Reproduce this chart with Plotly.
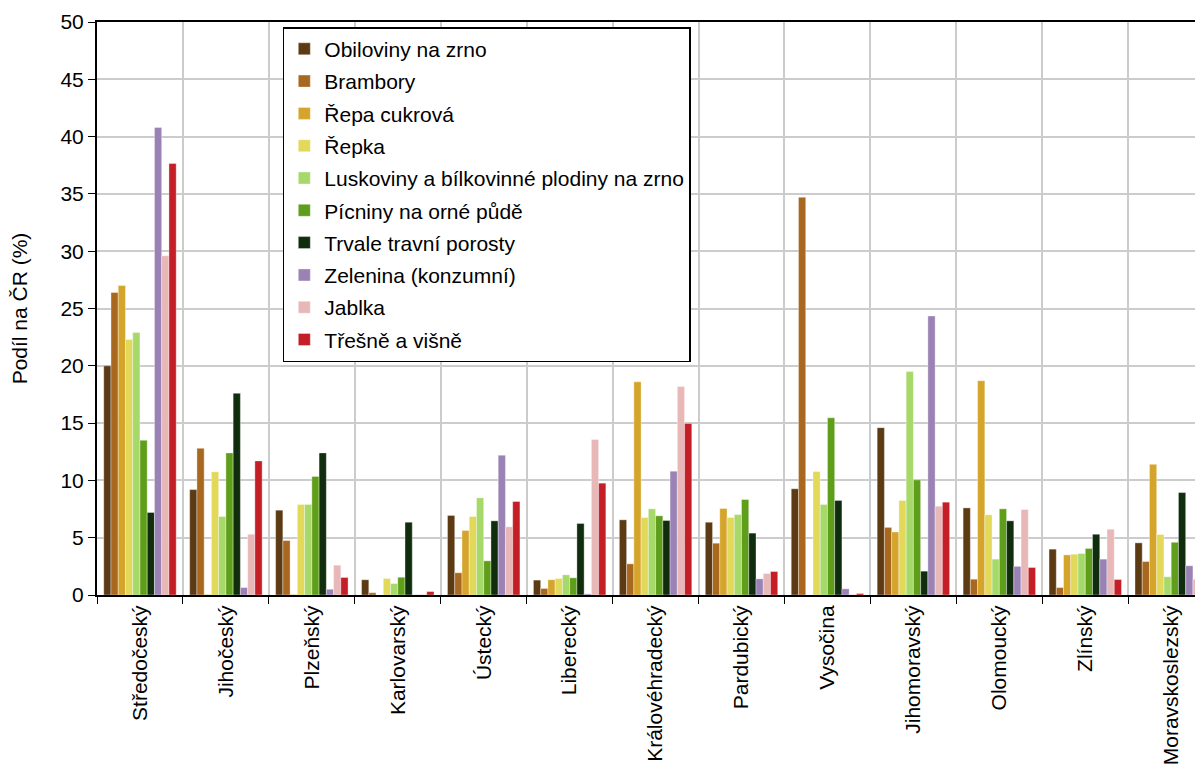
import plotly.graph_objects as go

regions = ["Středočeský", "Jihočeský", "Plzeňský", "Karlovarský", "Ústecký", "Liberecký",
           "Královéhradecký", "Pardubický", "Vysočina", "Jihomoravský", "Olomoucký",
           "Zlínský", "Moravskoslezský"]

series_names = ["Obiloviny na zrno", "Brambory", "Řepa cukrová", "Řepka",
                "Luskoviny a bílkovinné plodiny na zrno", "Pícniny na orné půdě",
                "Trvale travní porosty", "Zelenina (konzumní)", "Jablka", "Třešně a višně"]

obiloviny = [20.0, 9.2, 7.4, 1.33, 6.94, 1.3, 6.56, 6.35, 9.27, 14.6, 7.6, 4.0, 4.55]
brambory = [26.4, 12.8, 4.75, 0.2, 1.94, 0.57, 2.72, 4.52, 34.7, 5.9, 1.38, 0.65, 2.92]
repa = [27.0, 0.05, 0.05, 0.0, 5.63, 1.33, 18.6, 7.55, 0.0, 5.5, 18.7, 3.5, 11.4]
repka = [22.3, 10.75, 7.9, 1.44, 6.85, 1.44, 6.76, 6.76, 10.78, 8.25, 7.0, 3.56, 5.28]
luskoviny = [22.9, 6.85, 7.9, 1.0, 8.48, 1.76, 7.52, 7.02, 7.9, 19.5, 3.13, 3.62, 1.59]
picniny = [13.5, 12.4, 10.35, 1.55, 2.98, 1.5, 6.91, 8.33, 15.46, 10.05, 7.52, 4.06, 4.6]
trvale = [7.2, 17.6, 12.4, 6.35, 6.47, 6.24, 6.5, 5.4, 8.25, 2.08, 6.47, 5.3, 8.94]
zelenina = [40.8, 0.65, 0.5, 0.02, 12.2, 0.1, 10.8, 1.41, 0.54, 24.35, 2.5, 3.13, 2.55]
jablka = [29.6, 5.3, 2.6, 0.05, 5.95, 13.57, 18.2, 1.88, 0.05, 7.75, 7.46, 5.74, 1.38]
tresne = [37.65, 11.7, 1.53, 0.3, 8.16, 9.76, 14.97, 2.05, 0.13, 8.1, 2.4, 1.35, 1.4]

values = [obiloviny, brambory, repa, repka, luskoviny, picniny, trvale, zelenina, jablka, tresne]
colors = ["#5C3A14", "#A86820", "#D4A52A", "#E2D95A", "#A6D96A", "#5F9E1A",
          "#102D0E", "#9A82B5", "#E8B8B8", "#C41E26"]

y_ticks = [0, 5, 10, 15, 20, 25, 30, 35, 40, 45, 50]

fig = go.Figure()
for name, vals, col in zip(series_names, values, colors):
    fig.add_trace(go.Bar(
        x=regions, y=vals, name=name, legendgroup=name,
        marker=dict(color=col, line=dict(color="rgba(255,255,255,0.6)", width=0.6)),
    ))

font_family = "Liberation Sans, Arial, sans-serif"

fig.update_layout(
    width=1195, height=759,
    barmode="group", bargap=0.157, bargroupgap=0,
    paper_bgcolor="white", plot_bgcolor="white",
    margin=dict(l=89, r=0, t=14, b=172),
    font=dict(family=font_family, size=21, color="black"),
    showlegend=True,
    legend=dict(
        x=0.168, y=0.991, xanchor="left", yanchor="top",
        bgcolor="white", bordercolor="black", borderwidth=1.5,
        font=dict(family=font_family, size=21, color="black"),
        tracegroupgap=2, traceorder="grouped",
    ),
    xaxis=dict(
        type="category", range=[-0.5, 12.37],
        tickson="boundaries", ticks="outside", ticklen=7, tickcolor="black",
        tickangle=-90, tickfont=dict(size=21),
        showgrid=True, gridcolor="#CCCCCC", gridwidth=1.5,
        showline=True, linecolor="black", linewidth=2, mirror=True,
    ),
    yaxis=dict(
        range=[0, 50], tickvals=y_ticks, ticks="outside", ticklen=7, tickcolor="black",
        tickfont=dict(size=21),
        showgrid=True, gridcolor="#CCCCCC", gridwidth=1.5,
        showline=True, linecolor="black", linewidth=2,
        zeroline=False,
        title=dict(text="Podíl na ČR (%)", font=dict(size=21), standoff=27),
    ),
)

fig.write_html("out.html")
